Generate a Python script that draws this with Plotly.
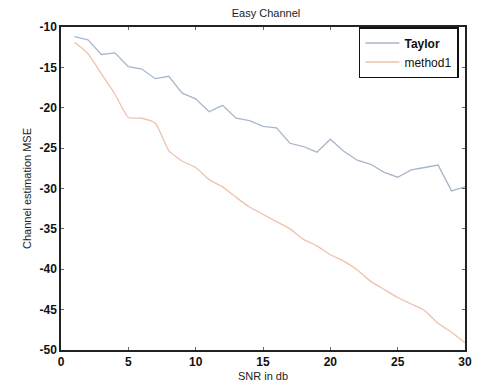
import plotly.graph_objects as go

snr_db = list(range(1, 31))

taylor_mse = [-11.2, -11.6, -13.4, -13.2, -14.9, -15.2, -16.4, -16.1, -18.2, -18.9,
              -20.5, -19.7, -21.3, -21.6, -22.3, -22.5, -24.4, -24.8, -25.5, -23.9,
              -25.4, -26.5, -27.0, -28.0, -28.6, -27.7, -27.4, -27.1, -30.3, -29.8]

method1_mse = [-11.9, -13.3, -15.8, -18.3, -21.2, -21.3, -21.9, -25.3, -26.6, -27.4,
               -28.9, -29.8, -31.1, -32.3, -33.2, -34.1, -35.0, -36.3, -37.1, -38.2,
               -39.0, -40.1, -41.5, -42.5, -43.5, -44.3, -45.1, -46.7, -47.8, -49.1]

x_ticks = [0, 5, 10, 15, 20, 25, 30]
y_ticks = [-10, -15, -20, -25, -30, -35, -40, -45, -50]

font_family = "Liberation Sans, Arial, sans-serif"

fig = go.Figure()
fig.add_trace(go.Scatter(x=snr_db, y=taylor_mse, mode="lines", name="<b>Taylor</b>",
                         line=dict(color="#a9b7cb", width=1.3)))
fig.add_trace(go.Scatter(x=snr_db, y=method1_mse, mode="lines", name="method1",
                         line=dict(color="#eec2ab", width=1.3, shape="spline", smoothing=0.5)))

axis_common = dict(
    showgrid=False, zeroline=False, showline=True, linecolor="#222222", linewidth=1.5,
    mirror="ticks", ticks="inside", ticklen=3, tickcolor="#666666",
    tickfont=dict(family=font_family, size=12, color="#111111"),
)

fig.update_layout(
    width=481, height=390,
    margin=dict(l=61, r=9, t=27, b=37),
    paper_bgcolor="white", plot_bgcolor="white",
    title=dict(text="Easy Channel", x=0.553, xanchor="center", y=0.967, yanchor="middle",
               font=dict(family=font_family, size=11, color="#222222")),
    xaxis=dict(range=[0, 30], tickvals=x_ticks,
               ticktext=["<b>%d</b>" % v for v in x_ticks],
               title=dict(text="SNR in db", standoff=4,
                          font=dict(family=font_family, size=11, color="#222222")),
               **axis_common),
    yaxis=dict(range=[-50, -10], tickvals=y_ticks,
               ticktext=["<b>%d</b>" % v for v in y_ticks],
               title=dict(text="Channel estimation MSE", standoff=6,
                          font=dict(family=font_family, size=11, color="#222222")),
               **axis_common),
    legend=dict(x=0.985, y=1.0, xanchor="right", yanchor="top",
                bgcolor="white", bordercolor="#111111", borderwidth=1.5,
                font=dict(family=font_family, size=12, color="#111111"),
                tracegroupgap=0, itemwidth=34),
    showlegend=True,
)

fig.write_html("out.html")
